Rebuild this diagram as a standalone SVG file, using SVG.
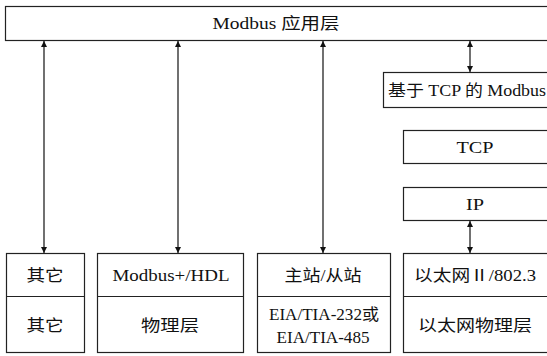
<svg xmlns="http://www.w3.org/2000/svg" width="547" height="356" viewBox="0 0 547 356">
<defs>
<marker id="ah" viewBox="0 0 10 10" refX="10" refY="5" markerWidth="6" markerHeight="12" markerUnits="userSpaceOnUse" orient="auto-start-reverse">
<path d="M0,0 L10,5 L0,10 Z" fill="#111"/>
</marker>
<style>
.box{fill:#fff;stroke:#222;stroke-width:1.2}
.t{font-family:"Liberation Serif","Noto Sans CJK SC",serif;font-size:16px;fill:#111;text-anchor:middle}
.c{stroke:#111;stroke-width:1.2;fill:none;marker-start:url(#ah);marker-end:url(#ah)}
</style>
</defs>
<rect width="547" height="356" fill="#fff"/>
<g id="app">
<rect class="box" x="5.5" y="6.5" width="543" height="34"/>
<text class="t" x="276" y="29" textLength="127" lengthAdjust="spacingAndGlyphs">Modbus 应用层</text>
</g>
<g id="modbus-tcp">
<rect class="box" x="383.5" y="72.5" width="165" height="35"/>
<text class="t" x="467" y="96" textLength="158" lengthAdjust="spacingAndGlyphs">基于 TCP 的 Modbus</text>
</g>
<g id="tcp">
<rect class="box" x="403.5" y="130.5" width="145" height="33"/>
<text class="t" x="475" y="153" textLength="37" lengthAdjust="spacingAndGlyphs">TCP</text>
</g>
<g id="ip">
<rect class="box" x="403.5" y="187.5" width="145" height="33"/>
<text class="t" x="475" y="210" textLength="18" lengthAdjust="spacingAndGlyphs">IP</text>
</g>
<g id="other">
<rect class="box" x="6.5" y="253.5" width="78" height="99"/>
<line x1="6.5" y1="296.5" x2="84.5" y2="296.5" stroke="#222" stroke-width="1.2"/>
<text class="t" x="45" y="281" textLength="37" lengthAdjust="spacingAndGlyphs">其它</text>
<text class="t" x="45" y="331" textLength="37" lengthAdjust="spacingAndGlyphs">其它</text>
</g>
<g id="modbus-plus">
<rect class="box" x="97.5" y="253.5" width="146" height="99"/>
<line x1="97.5" y1="296.5" x2="243.5" y2="296.5" stroke="#222" stroke-width="1.2"/>
<text class="t" x="171" y="281" textLength="117" lengthAdjust="spacingAndGlyphs">Modbus+/HDL</text>
<text class="t" x="170" y="331" textLength="58" lengthAdjust="spacingAndGlyphs">物理层</text>
</g>
<g id="serial">
<rect class="box" x="257.5" y="253.5" width="133" height="99"/>
<line x1="257.5" y1="296.5" x2="390.5" y2="296.5" stroke="#222" stroke-width="1.2"/>
<text class="t" x="323" y="281" textLength="77" lengthAdjust="spacingAndGlyphs">主站/从站</text>
<text class="t" x="324" y="320" textLength="110" lengthAdjust="spacingAndGlyphs">EIA/TIA-232或</text>
<text class="t" x="323" y="343" textLength="93" lengthAdjust="spacingAndGlyphs">EIA/TIA-485</text>
</g>
<g id="ethernet">
<rect class="box" x="403.5" y="253.5" width="145" height="99"/>
<line x1="403.5" y1="296.5" x2="548" y2="296.5" stroke="#222" stroke-width="1.2"/>
<text class="t" x="475" y="281" textLength="122" lengthAdjust="spacingAndGlyphs">以太网Ⅱ/802.3</text>
<text class="t" x="475" y="331" textLength="114" lengthAdjust="spacingAndGlyphs">以太网物理层</text>
</g>
<g id="connectors">
<line class="c" x1="44" y1="41" x2="44" y2="253"/>
<line class="c" x1="178" y1="41" x2="178" y2="253"/>
<line class="c" x1="323" y1="41" x2="323" y2="253"/>
<line class="c" x1="470" y1="41" x2="470" y2="72"/>
<line class="c" x1="470" y1="221" x2="470" y2="253"/>
</g>
</svg>
